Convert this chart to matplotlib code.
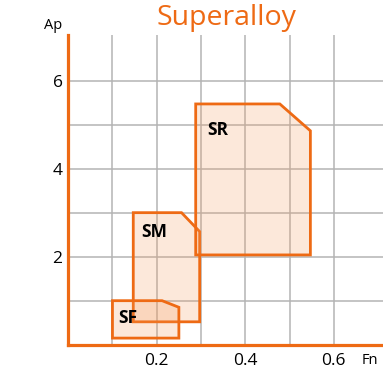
import matplotlib
matplotlib.use('Agg')
import matplotlib.pyplot as plt
from matplotlib.patches import Polygon

plt.rcParams['font.family'] = ['Open Sans', 'DejaVu Sans']

orange = '#ee6a14'

# cutting regions: (Fn, Ap) outline corners
sf_fn = [0.10, 0.10, 0.212, 0.25, 0.25]
sf_ap = [0.15, 1.00, 1.00, 0.85, 0.15]
sm_fn = [0.147, 0.147, 0.256, 0.297, 0.297]
sm_ap = [0.52, 3.00, 3.00, 2.57, 0.52]
sr_fn = [0.288, 0.288, 0.478, 0.547, 0.547]
sr_ap = [2.04, 5.47, 5.47, 4.86, 2.04]
names = ['SM', 'SF', 'SR']
label_pos = {'SF': (0.113, 0.60), 'SM': (0.164, 2.55), 'SR': (0.313, 4.88)}

x_ticks = [0.2, 0.4, 0.6]
y_ticks = [2, 4, 6]

fig = plt.figure(figsize=(3.83, 3.83), dpi=100)
ax = fig.add_axes([0.178, 0.1, 0.822, 0.809])

regions = {'SM': (sm_fn, sm_ap), 'SF': (sf_fn, sf_ap), 'SR': (sr_fn, sr_ap)}
for n in names:
    fn, ap = regions[n]
    poly = Polygon(list(zip(fn, ap)), closed=True,
                   facecolor=(0.96, 0.6, 0.35, 0.22), edgecolor=orange,
                   linewidth=2.0, zorder=3)
    ax.add_patch(poly)
    ax.text(label_pos[n][0], label_pos[n][1], n, fontsize=12.5, fontweight='bold',
            ha='left', va='center', color='black', zorder=4)

ax.set_xlim(0, 0.711)
ax.set_ylim(0, 7.04)
grid_x = [0.1, 0.2, 0.3, 0.4, 0.5, 0.6]
grid_y = [1, 2, 3, 4, 5, 6]
ax.set_xticks(grid_x)
ax.set_xticklabels([str(t) if t in x_ticks else '' for t in grid_x])
ax.set_yticks(grid_y)
ax.set_yticklabels([str(t) if t in y_ticks else '' for t in grid_y])
ax.tick_params(length=0, labelsize=12.5)
ax.tick_params(axis='y', pad=4)
ax.tick_params(axis='x', pad=6)
ax.grid(True, color='#b4b4b4', linewidth=1.1, zorder=0)
ax.set_axisbelow(True)

for s in ['top', 'right']:
    ax.spines[s].set_visible(False)
for s in ['left', 'bottom']:
    ax.spines[s].set_color(orange)
    ax.spines[s].set_linewidth(2.3)

fig.text(0.590, 0.952, 'Superalloy', color=orange, fontsize=20.5, ha='center', va='center')
fig.text(0.138, 0.934, 'Ap', fontsize=10.5, ha='center', va='center')
fig.text(0.967, 0.06, 'Fn', fontsize=10.5, ha='center', va='center')

fig.savefig('out.png', dpi=100)
